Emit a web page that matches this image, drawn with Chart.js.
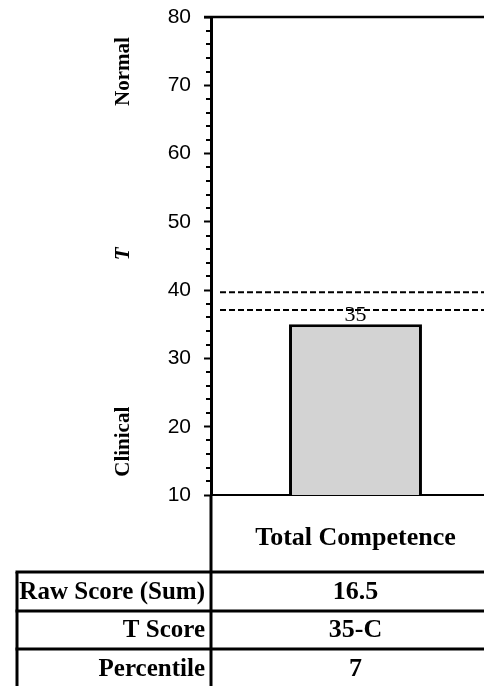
<!DOCTYPE html>
<html>
<head>
<meta charset="utf-8">
<script src="https://cdn.jsdelivr.net/npm/chart.js@4.4.0/dist/chart.umd.min.js"></script>
<style>
  html, body { margin: 0; padding: 0; background: #fff; overflow: hidden; width: 484px; height: 686px; }
  #wrap { width: 500px; height: 686px; }
</style>
</head>
<body>
<div id="wrap"><canvas id="c" width="500" height="686"></canvas></div>
<script>
// ---- data ----
const categories = ['Total Competence'];
const tScores = [35];
const referenceLines = [39.7, 37.1];
const yMin = 10, yMax = 80;
const sideLabels = ['Normal', 'T', 'Clinical'];
const sideLabelValues = [72, 45.3, 17.8];
const tableRowLabels = ['Raw Score (Sum)', 'T Score', 'Percentile'];
const rawScores = ['16.5'];
const tScoreTexts = ['35-C'];
const percentiles = ['7'];

const SERIF = '"Liberation Serif", "Times New Roman", serif';
const SANS = '"Liberation Sans", Arial, sans-serif';

const decorPlugin = {
  id: 'decor',
  afterDatasetsDraw(chart) {
    const ctx = chart.ctx;
    const ca = chart.chartArea;
    const y = chart.scales.y;
    const x = chart.scales.x;
    const W = chart.width, H = chart.height;
    ctx.save();

    // minor ticks
    ctx.strokeStyle = '#000';
    ctx.lineWidth = 2;
    y.ticks.forEach(t => {
      if (t.value % 10 !== 0) {
        const py = Math.round(y.getPixelForValue(t.value));
        ctx.beginPath();
        ctx.moveTo(ca.left - 5, py);
        ctx.lineTo(ca.left, py);
        ctx.stroke();
      }
    });

    // bar value labels
    const meta = chart.getDatasetMeta(0);
    ctx.fillStyle = '#000';
    ctx.font = '22px ' + SERIF;
    ctx.textAlign = 'center';
    ctx.textBaseline = 'alphabetic';
    meta.data.forEach((bar, i) => {
      ctx.fillText(String(Math.round(tScores[i])), bar.x, bar.y - 3);
    });

    // dashed reference lines
    ctx.lineWidth = 2;
    ctx.setLineDash([6, 3]);
    referenceLines.forEach(v => {
      const py = y.getPixelForValue(v);
      ctx.beginPath();
      ctx.moveTo(ca.left + 9, py);
      ctx.lineTo(W, py);
      ctx.stroke();
    });
    ctx.setLineDash([]);

    // top border
    ctx.lineWidth = 2.5;
    ctx.beginPath();
    ctx.moveTo(ca.left - 7, ca.top);
    ctx.lineTo(W, ca.top);
    ctx.stroke();

    // axis extension downwards
    ctx.lineWidth = 3;
    ctx.beginPath();
    ctx.moveTo(ca.left, ca.bottom);
    ctx.lineTo(ca.left, H);
    ctx.stroke();

    // side labels (rotated)
    sideLabels.forEach((txt, i) => {
      const py = y.getPixelForValue(sideLabelValues[i]);
      ctx.save();
      ctx.translate(124, py);
      ctx.rotate(-Math.PI / 2);
      ctx.font = (txt === 'T' ? 'italic bold 21px ' : 'bold 21px ') + SERIF;
      ctx.textAlign = 'center';
      ctx.textBaseline = 'middle';
      ctx.fillText(txt, 0, 0);
      ctx.restore();
    });

    // table
    const tableTop = ca.bottom + 77;
    const rowH = 38.5;
    const tableLeft = 17;
    ctx.lineWidth = 3;
    for (let r = 0; r < tableRowLabels.length; r++) {
      const ly = Math.round(tableTop + r * rowH);
      ctx.beginPath();
      ctx.moveTo(tableLeft - 1.5, ly);
      ctx.lineTo(W, ly);
      ctx.stroke();
    }
    ctx.beginPath();
    ctx.moveTo(tableLeft, tableTop);
    ctx.lineTo(tableLeft, H);
    ctx.stroke();

    const rowValues = [rawScores, tScoreTexts, percentiles];
    ctx.textBaseline = 'middle';
    for (let r = 0; r < tableRowLabels.length; r++) {
      const cy = tableTop + r * rowH + rowH / 2 + 1;
      ctx.font = 'bold 25px ' + SERIF;
      ctx.textAlign = 'right';
      ctx.fillText(tableRowLabels[r], ca.left - 6, cy);
      ctx.font = 'bold 26px ' + SERIF;
      ctx.textAlign = 'center';
      categories.forEach((c, i) => {
        ctx.fillText(rowValues[r][i], x.getPixelForValue(i), cy);
      });
    }
    ctx.restore();
  }
};

new Chart(document.getElementById('c'), {
  type: 'bar',
  data: {
    labels: categories,
    datasets: [{
      data: tScores,
      backgroundColor: '#d3d3d3',
      borderColor: '#000',
      borderWidth: 3,
      borderSkipped: false,
      barPercentage: 0.46,
      categoryPercentage: 1
    }]
  },
  options: {
    responsive: false,
    animation: false,
    devicePixelRatio: 1,
    layout: { padding: { top: 17, left: 0, right: 0, bottom: 0 } },
    plugins: { legend: { display: false }, tooltip: { enabled: false } },
    scales: {
      x: {
        afterFit(s) { s.height = 191; s.paddingLeft = 0; s.paddingRight = 0; },
        grid: { display: false, drawTicks: false },
        border: { display: true, color: '#000', width: 2 },
        ticks: {
          color: '#000',
          padding: 28,
          font: { family: SERIF, size: 26, weight: 'bold' }
        }
      },
      y: {
        min: yMin,
        max: yMax,
        afterFit(s) { s.width = 211; s.paddingTop = 0; s.paddingBottom = 0; },
        grid: {
          drawOnChartArea: false,
          drawTicks: true,
          tickLength: 7,
          tickWidth: 2,
          tickColor: (c) => (c.tick && c.tick.value % 10 === 0) ? '#000' : 'rgba(0,0,0,0)'
        },
        border: { display: true, color: '#000', width: 3 },
        ticks: {
          stepSize: 2,
          autoSkip: false,
          padding: 13,
          color: '#000',
          font: { family: SANS, size: 21 },
          callback: (v) => (v % 10 === 0 ? String(v) : '')
        }
      }
    }
  },
  plugins: [decorPlugin]
});
</script>
</body>
</html>
